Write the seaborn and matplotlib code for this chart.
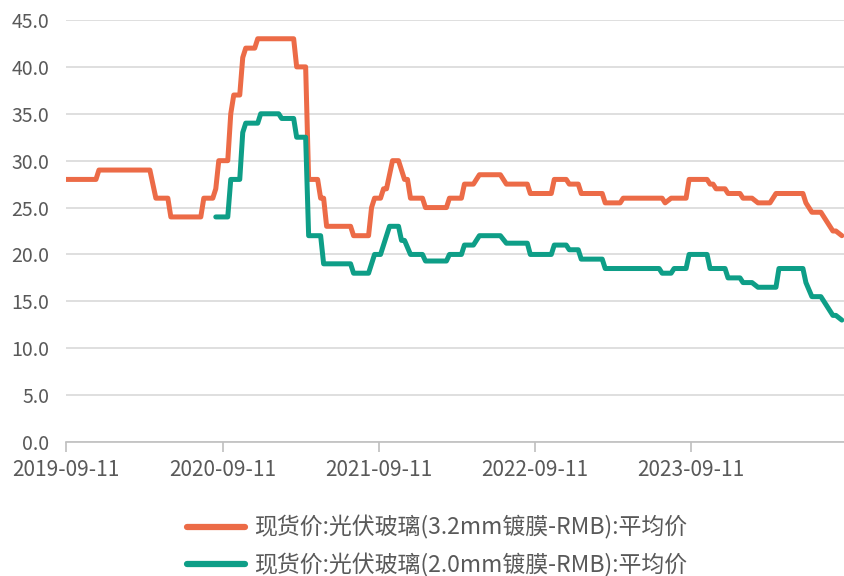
import matplotlib
matplotlib.use("Agg")
import matplotlib.pyplot as plt
import matplotlib.dates as mdates
import seaborn as sns
import pandas as pd

# ---- data (corner points of the weekly price series) ----
dates_32 = ["2019-09-11", "2019-11-20", "2019-11-27", "2020-03-25", "2020-04-08", "2020-05-06",
            "2020-05-13", "2020-07-22", "2020-07-29", "2020-08-19", "2020-08-26", "2020-09-02",
            "2020-09-23", "2020-09-30", "2020-10-07", "2020-10-21", "2020-10-28", "2020-11-04",
            "2020-11-25", "2020-12-02", "2021-02-24", "2021-03-03", "2021-03-24", "2021-03-31",
            "2021-04-21", "2021-04-28", "2021-05-05", "2021-05-12", "2021-07-07", "2021-07-14",
            "2021-08-18", "2021-08-25", "2021-09-01", "2021-09-15", "2021-09-22", "2021-09-29",
            "2021-10-13", "2021-10-27", "2021-11-10", "2021-11-17", "2021-11-24", "2021-12-22",
            "2021-12-29", "2022-02-16", "2022-02-23", "2022-03-23", "2022-03-30", "2022-04-20",
            "2022-05-04", "2022-06-22", "2022-07-06", "2022-08-24", "2022-08-31", "2022-10-19",
            "2022-10-26", "2022-11-23", "2022-11-30", "2022-12-21", "2022-12-28", "2023-02-15",
            "2023-02-22", "2023-03-29", "2023-04-05", "2023-07-05", "2023-07-12", "2023-07-26",
            "2023-08-30", "2023-09-06", "2023-10-18", "2023-10-25", "2023-11-01", "2023-11-08",
            "2023-11-29", "2023-12-06", "2024-01-03", "2024-01-10", "2024-01-31", "2024-02-14",
            "2024-03-13", "2024-03-27", "2024-05-29", "2024-06-05", "2024-06-19", "2024-07-10",
            "2024-07-24", "2024-08-07", "2024-08-14", "2024-08-28"]
price_32 = [28, 28, 29, 29, 26, 26,
            24, 24, 26, 26, 27, 30,
            30, 35, 37, 37, 41, 42,
            42, 43, 43, 40, 40, 28,
            28, 26, 26, 23, 23, 22,
            22, 25, 26, 26, 27, 27,
            30, 30, 28, 28, 26, 26,
            25, 25, 26, 26, 27.5, 27.5,
            28.5, 28.5, 27.5, 27.5, 26.5, 26.5,
            28, 28, 27.5, 27.5, 26.5, 26.5,
            25.5, 25.5, 26, 26, 25.5, 26,
            26, 28, 28, 27.5, 27.5, 27,
            27, 26.5, 26.5, 26, 26, 25.5,
            25.5, 26.5, 26.5, 25.5, 24.5, 24.5,
            23.5, 22.5, 22.5, 22]

dates_20 = ["2020-08-26", "2020-09-23", "2020-09-30", "2020-10-21", "2020-10-28", "2020-11-04",
            "2020-12-02", "2020-12-09", "2021-01-20", "2021-01-27", "2021-02-24", "2021-03-03",
            "2021-03-24", "2021-03-31", "2021-04-28", "2021-05-05", "2021-07-07", "2021-07-14",
            "2021-08-18", "2021-08-25", "2021-09-01", "2021-09-15", "2021-09-22", "2021-10-06",
            "2021-10-27", "2021-11-03", "2021-11-10", "2021-11-24", "2021-12-22", "2021-12-29",
            "2022-02-16", "2022-02-23", "2022-03-23", "2022-03-30", "2022-04-20", "2022-05-04",
            "2022-06-22", "2022-07-06", "2022-08-24", "2022-08-31", "2022-10-19", "2022-10-26",
            "2022-11-23", "2022-11-30", "2022-12-21", "2022-12-28", "2023-02-15", "2023-02-22",
            "2023-06-28", "2023-07-05", "2023-07-26", "2023-08-02", "2023-08-30", "2023-09-06",
            "2023-10-18", "2023-10-25", "2023-11-29", "2023-12-06", "2024-01-03", "2024-01-10",
            "2024-01-31", "2024-02-14", "2024-03-27", "2024-04-03", "2024-05-29", "2024-06-05",
            "2024-06-19", "2024-07-10", "2024-07-24", "2024-08-07", "2024-08-14", "2024-08-28"]
price_20 = [24, 24, 28, 28, 33, 34,
            34, 35, 35, 34.5, 34.5, 32.5,
            32.5, 22, 22, 19, 19, 18,
            18, 19, 20, 20, 21, 23,
            23, 21.5, 21.5, 20, 20, 19.3,
            19.3, 20, 20, 21, 21, 22,
            22, 21.2, 21.2, 20, 20, 21,
            21, 20.5, 20.5, 19.5, 19.5, 18.5,
            18.5, 18, 18, 18.5, 18.5, 20,
            20, 18.5, 18.5, 17.5, 17.5, 17,
            17, 16.5, 16.5, 18.5, 18.5, 17,
            15.5, 15.5, 14.5, 13.5, 13.5, 13]

series_names = ["现货价:光伏玻璃(3.2mm镀膜-RMB):平均价", "现货价:光伏玻璃(2.0mm镀膜-RMB):平均价"]
colors = ["#EC6B47", "#0E9E87"]
tick_dates = ["2019-09-11", "2020-09-11", "2021-09-11", "2022-09-11", "2023-09-11"]
y_ticks = [0, 5, 10, 15, 20, 25, 30, 35, 40, 45]

df = pd.concat([
    pd.DataFrame({"date": pd.to_datetime(dates_32), "price": price_32, "series": series_names[0]}),
    pd.DataFrame({"date": pd.to_datetime(dates_20), "price": price_20, "series": series_names[1]}),
], ignore_index=True)

sns.set_theme(style="white")
plt.rcParams["font.family"] = ["Noto Sans CJK SC", "DejaVu Sans"]

fig = plt.figure(figsize=(8.44, 5.76), dpi=100)
ax = fig.add_axes([66 / 844, 1 - 442 / 576, 1 - 66 / 844, (442 - 20) / 576])

sns.lineplot(data=df, x="date", y="price", hue="series", palette=colors,
             hue_order=series_names, estimator=None, sort=False, linewidth=3.6,
             legend=False, ax=ax)

ax.set_ylim(0, 45)
ax.set_yticks(y_ticks)
ax.set_yticklabels([f"{v:.1f}" for v in y_ticks])
ax.set_xlim(pd.Timestamp("2019-09-11"), pd.Timestamp("2024-09-02"))
ax.set_xticks(pd.to_datetime(tick_dates))
ax.set_xticklabels(tick_dates)
ax.set_xlabel("")
ax.set_ylabel("")

ax.grid(axis="y", color="#D9D9D9", linewidth=1.2)
ax.grid(axis="x", visible=False)
ax.set_axisbelow(True)
for s in ["top", "right", "left"]:
    ax.spines[s].set_visible(False)
ax.spines["bottom"].set_color("#BFBFBF")
ax.spines["bottom"].set_linewidth(1.2)
ax.tick_params(axis="x", bottom=True, length=7, width=1.2, color="#BFBFBF",
               labelsize=15, labelcolor="#595959", pad=5)
ax.tick_params(axis="y", left=False, length=0, labelsize=14, labelcolor="#595959", pad=12)

handles = [plt.Line2D([], [], color=c, linewidth=4.5, solid_capstyle="round") for c in colors]
fig.legend(handles, series_names, loc="center", bbox_to_anchor=(437 / 844, 1 - 546.5 / 576),
           ncol=1, frameon=False, fontsize=16.5, labelcolor="#595959",
           handlelength=2.5, handletextpad=0.4, labelspacing=0.6)

fig.savefig("out.png", dpi=100)
